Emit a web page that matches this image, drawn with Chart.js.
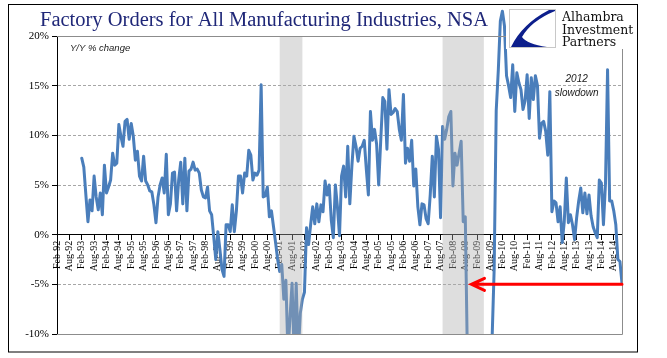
<!DOCTYPE html>
<html>
<head>
<meta charset="utf-8">
<script src="https://cdn.jsdelivr.net/npm/chart.js@4.4.0/dist/chart.umd.min.js"></script>
<style>
  html, body { margin: 0; padding: 0; background: #fff; }
</style>
</head>
<body>
<canvas id="myChart" width="667" height="358"></canvas>
<script>
// month labels Feb-92 .. Dec-14
const monthNames = ['Jan','Feb','Mar','Apr','May','Jun','Jul','Aug','Sep','Oct','Nov','Dec'];
const labels = [];
for (let yr = 1992; yr <= 2014; yr++) {
    for (let m = 0; m < 12; m++) {
        if (yr === 1992 && m === 0) continue;
        labels.push(monthNames[m] + '-' + String(yr).slice(2));
    }
}

// Y/Y % change (first year has no comparison)
const y1992 = [null, null, null, null, null, null, null, null, null, null, null];   // Feb-Dec
const y1993 = [null, 7.7, 6.8, 4.0, 1.3, 3.5, 2.4, 5.9, 3.8, 2.5, 4.2, 2.0];
const y1994 = [7.0, 4.2, 4.8, 5.5, 8.2, 7.0, 7.2, 11.1, 9.9, 8.9, 11.4, 11.6];
const y1995 = [9.6, 11.2, 9.9, 7.5, 8.4, 5.9, 5.4, 7.9, 5.4, 5.0, 4.4, 4.3];
const y1996 = [3.0, 1.2, 3.8, 5.0, 5.7, 4.2, 8.1, 2.0, 3.1, 6.2, 6.3, 2.4];
const y1997 = [5.5, 7.3, 3.1, 7.7, 2.4, 6.4, 6.6, 7.3, 6.5, 6.6, 6.2, 4.5];
const y1998 = [3.8, 3.7, 4.8, 2.4, 2.0, -0.2, -2.5, 0.3, -1.5, -3.5, -4.2, 1.0];
const y1999 = [1.0, 0.3, 3.0, 0.3, 2.4, 5.9, 5.9, 4.2, 6.2, 5.9, 8.5, 8.0];
const y2000 = [5.5, 6.2, 6.0, 6.5, 15.1, 3.8, 3.9, 4.8, 1.8, 2.4, 0.8, -0.8];
const y2001 = [-2.5, -3.7, -3.0, -6.5, -4.6, -12, -8.3, -4.9, -12, -4.9, -12, -7.9];
const y2002 = [-6.5, -5.8, 0.7, -1.0, 1.0, 2.8, 1.1, 3.1, 1.3, 3.0, 2.3, 5.4];
const y2003 = [4.0, 5.0, 1.5, -0.3, 5.0, 2.8, -0.1, 5.9, 6.9, 3.8, 8.9, 3.1];
const y2004 = [6.9, 9.9, 8.9, 7.4, 8.7, 8.9, 9.5, 6.6, 4.0, 12.4, 9.5, 10.6];
const y2005 = [9.1, 5.0, 9.5, 13.8, 13.4, 8.6, 14.6, 12.1, 12.3, 12.7, 12.4, 10.6];
const y2006 = [9.5, 14.1, 7.2, 8.7, 7.4, 9.5, 4.9, 6.6, 2.8, 1.0, 3.1, 3.0];
const y2007 = [1.6, 1.1, 4.0, 7.9, 3.8, 9.9, 8.6, 1.7, 10.9, 9.6, 10.6, 11.9];
const y2008 = [12.4, 4.9, 8.2, 7.0, 8.2, 9.4, 1.3, 1.8, -12, -17, -21, -24];
const y2009 = [-27, -30, -31, -30, -28, -25, -21, -16, -10.5, -3.5, 12.5, 16.5];
const y2010 = [21.5, 22.5, 21.0, 16.0, 15.0, 13.8, 17.1, 12.4, 16.3, 15.3, 14.6, 12.6];
const y2011 = [13.5, 16.1, 11.7, 15.8, 13.6, 16.0, 15.0, 9.7, 11.2, 11.4, 10.4, 8.0];
const y2012 = [14.4, 2.3, 3.4, 3.2, 1.3, 2.8, -0.8, 1.3, 5.7, 1.2, 2.0, 1.0];
const y2013 = [-0.5, 1.7, 3.4, 4.7, 2.2, 4.2, 2.1, 4.0, 1.9, 0.8, 0.2, -0.3];
const y2014 = [5.5, 5.2, 1.0, 5.2, 16.6, 3.4, 3.4, 2.4, 1.0, -2.5, -2.7, -4.9];

const orders = [].concat(y1992, y1993, y1994, y1995, y1996, y1997, y1998, y1999, y2000,
    y2001, y2002, y2003, y2004, y2005, y2006, y2007, y2008, y2009, y2010, y2011,
    y2012, y2013, y2014);

// shaded recessions (first / last month)
const recessions = [['Feb-01', 'Jan-02'], ['Sep-07', 'May-09']];

// red arrow: from last month back to where -5% was last seen
const arrowFrom = 'Dec-14';
const arrowTo = 'Nov-08';
const arrowLevel = -5;

const shade = {
    id: 'shade',
    afterDatasetsDraw(chart) {
        const {ctx, chartArea: a, scales: {x}} = chart;
        ctx.save();
        ctx.fillStyle = 'rgba(172,172,172,0.4)';
        recessions.forEach(r => {
            const x1 = x.getPixelForValue(labels.indexOf(r[0]));
            const x2 = x.getPixelForValue(labels.indexOf(r[1]));
            ctx.fillRect(x1, a.top, x2 - x1, a.bottom - a.top);
        });
        ctx.restore();
    }
};

const extras = {
    id: 'extras',
    afterDraw(chart) {
        const {ctx, chartArea: a, scales: {x, y}} = chart;
        ctx.save();

        // plot frame
        ctx.strokeStyle = '#8c8c8c';
        ctx.lineWidth = 1;
        ctx.beginPath();
        ctx.moveTo(a.left, a.top + 0.5);
        ctx.lineTo(a.right + 0.5, a.top + 0.5);
        ctx.lineTo(a.right + 0.5, a.bottom + 0.5);
        ctx.lineTo(a.left, a.bottom + 0.5);
        ctx.stroke();

        // arrow
        const ay = y.getPixelForValue(arrowLevel);
        const ax1 = x.getPixelForValue(labels.indexOf(arrowFrom));
        const ax2 = x.getPixelForValue(labels.indexOf(arrowTo));
        ctx.strokeStyle = '#ff0000';
        ctx.lineWidth = 3;
        ctx.lineCap = 'round';
        ctx.beginPath();
        ctx.moveTo(ax1, ay);
        ctx.lineTo(ax2 + 2, ay);
        ctx.moveTo(ax2 + 13, ay - 6);
        ctx.lineTo(ax2, ay);
        ctx.lineTo(ax2 + 13, ay + 6);
        ctx.stroke();

        // notes
        ctx.fillStyle = '#1a1a1a';
        ctx.font = 'italic 9.5px "Liberation Sans"';
        ctx.textAlign = 'left';
        ctx.textBaseline = 'alphabetic';
        ctx.fillText('Y/Y % change', a.left + 13, a.top + 15);
        ctx.textAlign = 'center';
        ctx.font = 'italic 10px "Liberation Sans"';
        const nx = x.getPixelForValue(labels.indexOf('Feb-13'));
        ctx.fillText('2012', nx, y.getPixelForValue(15.4));
        ctx.fillText('slowdown', nx, y.getPixelForValue(14.0));

        // logo area
        ctx.fillStyle = '#fff';
        ctx.fillRect(506, 5, 131, 44);
        ctx.strokeStyle = '#c8c8c8';
        ctx.lineWidth = 1;
        ctx.strokeRect(509.5, 9.5, 46, 38);
        ctx.fillStyle = '#0d1f8c';
        ctx.beginPath();
        ctx.moveTo(555, 10);
        ctx.lineTo(549, 10);
        ctx.quadraticCurveTo(522, 24, 511, 47);
        ctx.lineTo(547, 47);
        ctx.quadraticCurveTo(527, 44, 522, 37);
        ctx.quadraticCurveTo(531, 21, 555, 11);
        ctx.closePath();
        ctx.fill();
        ctx.fillStyle = '#111';
        ctx.textAlign = 'left';
        ctx.font = '12.5px "DejaVu Serif"';
        ctx.fillText('Alhambra', 562, 21);
        ctx.fillText('Investment', 562, 33.5);
        ctx.fillText('Partners', 562, 46);

        // title
        ctx.fillStyle = '#1f2778';
        ctx.font = '20.5px "Liberation Serif"';
        ctx.fillText('Factory Orders for All Manufacturing Industries, NSA', 40, 26);

        // outer frame
        ctx.strokeStyle = '#000';
        ctx.lineWidth = 1;
        ctx.strokeRect(8.5, 4.5, 629, 347.5);
        ctx.restore();
    }
};

const ctxEl = document.getElementById('myChart').getContext('2d');
const myChart = new Chart(ctxEl, {
    type: 'line',
    data: {
        labels: labels,
        datasets: [{
            label: 'Factory orders Y/Y',
            data: orders,
            borderColor: '#4a7ebb',
            borderWidth: 3,
            borderJoinStyle: 'round',
            borderCapStyle: 'round',
            pointRadius: 0,
            tension: 0,
            spanGaps: false,
            clip: {left: 0, top: false, right: 0, bottom: 0}
        }]
    },
    options: {
        responsive: false,
        animation: false,
        devicePixelRatio: 1,
        layout: { padding: {left: 0, right: 45, top: 36, bottom: 24} },
        plugins: {
            legend: { display: false },
            title: { display: false },
            tooltip: { enabled: false }
        },
        scales: {
            x: {
                position: {y: 0},
                offset: false,
                grid: {
                    drawOnChartArea: false,
                    tickLength: 5,
                    color: c => (c.index % 6 === 0 ? '#000' : 'rgba(0,0,0,0)')
                },
                border: { color: '#000', width: 1 },
                ticks: {
                    autoSkip: false,
                    minRotation: 90,
                    maxRotation: 90,
                    padding: 1,
                    color: '#000',
                    font: { family: 'Liberation Serif', size: 10 },
                    callback: function (v, i) {
                        return i % 6 === 0 ? this.getLabelForValue(v) : '';
                    }
                }
            },
            y: {
                min: -10,
                max: 20,
                afterFit: s => { s.width = 57; },
                grid: {
                    color: c => (c.tick && c.tick.value === 0 ? 'rgba(0,0,0,0)' : '#a6a6a6'),
                    tickColor: '#000',
                    tickLength: 5
                },
                border: { color: '#000', width: 1, dash: [3, 2] },
                ticks: {
                    stepSize: 5,
                    padding: 3,
                    color: '#000',
                    font: { family: 'Liberation Serif', size: 11 },
                    callback: v => v + '%'
                }
            }
        }
    },
    plugins: [shade, extras]
});
</script>
</body>
</html>
